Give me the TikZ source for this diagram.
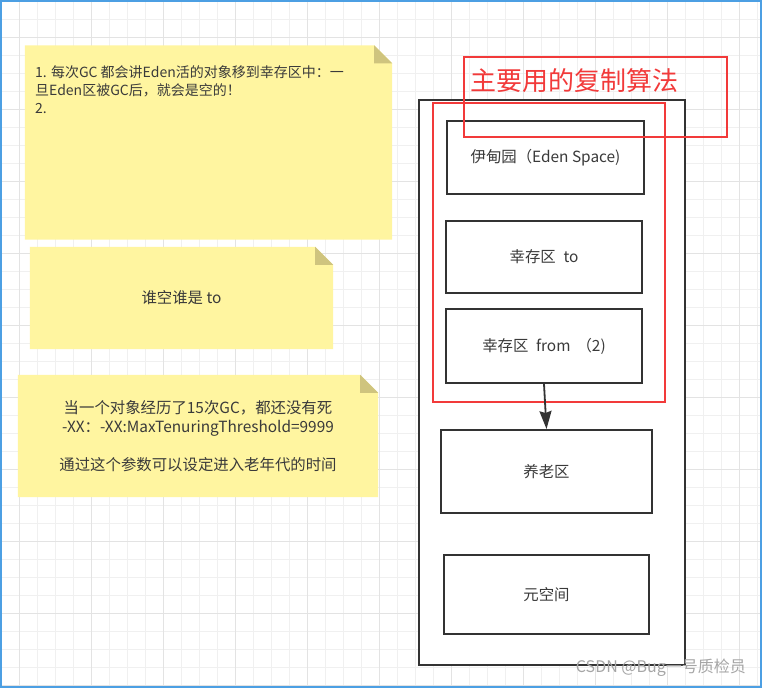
\documentclass[tikz,border=0pt]{standalone}
\usepackage{fontspec}
\setmainfont{Noto Sans CJK SC}
\usetikzlibrary{arrows,arrows.meta,backgrounds}
\definecolor{linec}{HTML}{333333}
\definecolor{textc}{HTML}{3A3A3A}
\definecolor{redc}{HTML}{F23A3A}
\definecolor{notec}{HTML}{FFF5A0}
\definecolor{foldc}{HTML}{CFC47E}
\definecolor{gridc}{HTML}{F0F0F0}
\definecolor{gridm}{HTML}{E3E3E3}
\definecolor{framec}{HTML}{4C9FE3}
\tikzset{
  txt/.style={font=\fontsize{15.4}{19}\selectfont, text=textc},
}

\begin{document}
\begin{tikzpicture}
  [
    x=1pt, y=-1pt,
    block/.style =
      {draw=linec, fill=white, line width=2pt, rectangle, align=center, txt},
    redbox/.style =
      {draw=redc, line width=1.6pt, rectangle},
    note/.style =
      {rectangle, inner sep=0pt, align=center, txt}
  ]
  \useasboundingbox (0,0) rectangle (762,688);

  % grid
  \begin{scope}[on background layer]
    \fill[white] (0,0) rectangle (762,688);
    \foreach \x in {1,19,...,757} \draw[gridc, line width=1pt] (\x,0) -- (\x,688);
    \foreach \y in {1,19,...,685} \draw[gridc, line width=1pt] (0,\y) -- (762,\y);
    \foreach \x in {19,91,...,739} \draw[gridm, line width=1pt] (\x,0) -- (\x,688);
    \foreach \y in {37,109,...,685} \draw[gridm, line width=1pt] (0,\y) -- (762,\y);
  \end{scope}

  % notes
  \node [note, minimum width=367pt, minimum height=194pt] at (208.5,142.5) (n1) {};
  \node [note, anchor=north west, align=left, font=\fontsize{14}{18}\selectfont] at (35,65) (t1)
    {1. 每次GC 都会讲Eden活的对象移到幸存区中：一\\旦Eden区被GC后，就会是空的！\\2.};
  \node [note, minimum width=303pt, minimum height=102pt] at (181.5,298) (n2) {谁空谁是 to};
  \node [note, minimum width=360pt, minimum height=122pt] at (198,436) (n3)
    {当一个对象经历了15次GC，都还没有死\\-XX：-XX:MaxTenuringThreshold=9999\\[19pt]通过这个参数可以设定进入老年代的时间};

  \begin{scope}[on background layer]
    \foreach \n in {n1,n2,n3} {
      \fill[notec] (\n.south west) |- ([xshift=-18pt]\n.north east)
        -- ([yshift=-18pt]\n.north east) |- cycle;
      \fill[foldc] ([xshift=-18pt]\n.north east) -- ([xshift=-18pt,yshift=-18pt]\n.north east)
        -- ([yshift=-18pt]\n.north east) -- cycle;
    }
  \end{scope}

  % heap
  \node [block, minimum width=266pt, minimum height=565pt] at (552,382.5) (heap) {};
  \node [redbox, minimum width=232pt, minimum height=299pt] at (549,252.5) (copy) {};
  \node [block, minimum width=197pt, minimum height=73pt] at (545.5,157.5) (eden) {伊甸园（Eden Space)};
  \node [block, minimum width=196pt, minimum height=72pt] at (544,257) (to) {幸存区\enspace to};
  \node [block, minimum width=196pt, minimum height=74pt] at (544,346) (from) {幸存区\enspace from \,（2)};
  \node [block, minimum width=211pt, minimum height=83pt] at (546.5,471.5) (old) {养老区};
  \node [block, minimum width=205pt, minimum height=79pt] at (546.5,594.5) (meta) {元空间};

  \draw[-{Stealth[length=18pt,width=12pt,inset=2pt]}, draw=linec, fill=linec, line width=1.8pt]
    (from.south) -- (old.north);

  \node [redbox, minimum width=263pt, minimum height=80pt] at (595.5,97) (title) {};
  \node [anchor=west, inner sep=0pt, text=redc, font=\fontsize{26}{30}\selectfont] at (470,81) (tt) {主要用的复制算法};

  % watermark and frame
  \node [anchor=east, inner sep=0pt, text=gray!70, font=\fontsize{16}{18}\selectfont] at (746,668) (wm) {CSDN @Bug一号质检员};
  \draw[framec, line width=2pt] (1,1) rectangle (761,687);

\end{tikzpicture}
\end{document}
